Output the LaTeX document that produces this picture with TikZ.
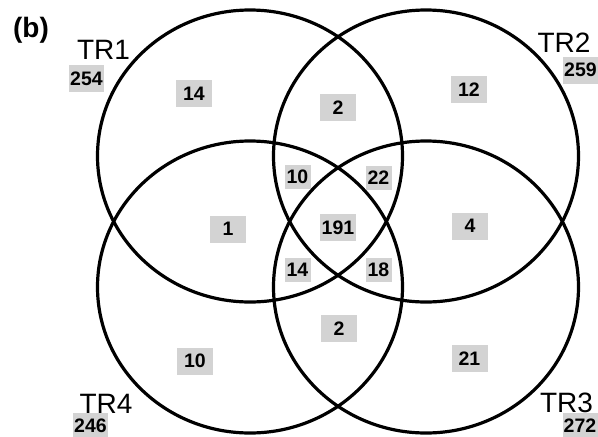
\documentclass[tikz,border=0pt]{standalone}
\usepackage{fontspec}
\setmainfont{Liberation Sans}
\newfontfamily\heavyfont{Liberation Sans Bold}
\definecolor{boxgray}{RGB}{211,211,211}
\begin{document}
\begin{tikzpicture}[x=1pt,y=-1pt,
  ring/.style={line width=3.2pt},
  numbox/.style={fill=boxgray, inner sep=0pt, minimum width=36pt, minimum height=27pt,
    font=\heavyfont\fontsize{19.5}{19.5}\selectfont},
  smallbox/.style={numbox, minimum width=26pt, minimum height=24pt},
  setname/.style={inner sep=0pt, font=\fontsize{28}{28}\selectfont},
  panel/.style={inner sep=0pt, font=\heavyfont\fontsize{28}{28}\selectfont}]
\useasboundingbox (0,0) rectangle (598,437);
\clip (0,0) rectangle (598,437);
\fill[white] (0,0) rectangle (598,437);

% the four sets
\draw[ring] (250,156) ellipse [x radius=152.5pt, y radius=146pt];
\draw[ring] (426,156) ellipse [x radius=152.5pt, y radius=146pt];
\draw[ring] (426,287) ellipse [x radius=152.5pt, y radius=146pt];
\draw[ring] (250,287) ellipse [x radius=152.5pt, y radius=146pt];

% panel tag and set names
\node[panel] (tag) at (31,30) {(b)};
\node[setname] (tr1) at (103.5,50) {TR1};
\node[setname] (tr2) at (564,43) {TR2};
\node[setname] (tr3) at (566.5,402.5) {TR3};
\node[setname] (tr4) at (106,404) {TR4};

% set totals
\node[numbox, minimum width=35pt] (n254) at (86.5,78.5) {254};
\node[numbox, minimum width=35pt] (n259) at (580.5,70) {259};
\node[numbox, minimum width=35pt] (n272) at (580,426) {272};
\node[numbox, minimum width=35pt] (n246) at (90.5,426) {246};

% region counts
\node[numbox] (r1) at (194,93.5) {14};
\node[numbox] (r2) at (469,89.5) {12};
\node[numbox] (r12) at (338,107.5) {2};
\node[smallbox] (r124) at (297.5,176.5) {10};
\node[smallbox] (r123) at (378.5,177.5) {22};
\node[numbox] (r14) at (228,229) {1};
\node[numbox] (rall) at (338,227.5) {191};
\node[numbox] (r23) at (470,226) {4};
\node[smallbox] (r234) at (297.5,270) {14};
\node[smallbox] (r134) at (378.5,270) {18};
\node[numbox] (r34) at (339,328.5) {2};
\node[numbox] (r4) at (195,361) {10};
\node[numbox] (r3) at (469.5,358.5) {21};
\end{tikzpicture}
\end{document}
